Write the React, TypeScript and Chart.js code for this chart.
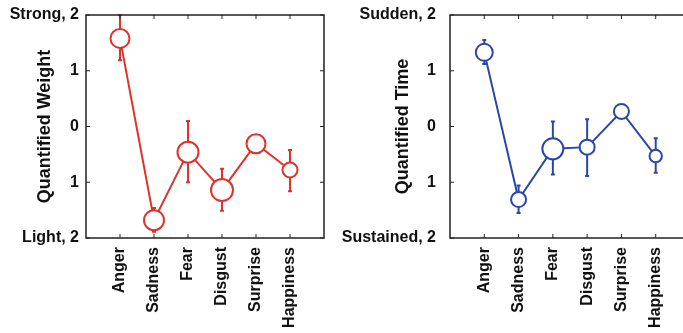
import { useEffect, useRef } from 'react';
import { Chart, registerables } from 'chart.js';

Chart.register(...registerables);

// ---------- data ----------
const emotions = ['Anger', 'Sadness', 'Fear', 'Disgust', 'Surprise', 'Happiness'];

const weightMean = [1.58, -1.68, -0.46, -1.14, -0.31, -0.78];
const weightLow = [1.19, -1.89, -1.0, -1.51, -0.31, -1.16];
const weightHigh = [2.0, -1.46, 0.1, -0.76, -0.31, -0.42];
const weightMarker = [9.5, 10, 10.5, 11, 9.5, 7.5];

const timeMean = [1.33, -1.31, -0.4, -0.37, 0.27, -0.53];
const timeLow = [1.12, -1.55, -0.86, -0.89, 0.27, -0.83];
const timeHigh = [1.55, -1.06, 0.09, 0.13, 0.27, -0.21];
const timeMarker = [8.5, 7.5, 10.5, 7.5, 7.5, 6.2];

const yTickValues = [-2, -1, 0, 1, 2];
const weightTickLabels = ['Light, 2', '1', '0', '1', 'Strong, 2'];
const timeTickLabels = ['Sustained, 2', '1', '0', '1', 'Sudden, 2'];

const FONT = "'Liberation Sans', Arial, Helvetica, sans-serif";

type PanelProps = {
  left: number;
  width: number;
  yWidth: number;
  padRight: number;
  tickPad: number;
  titlePad: number;
  title: string;
  tickLabels: string[];
  color: string;
  mean: number[];
  low: number[];
  high: number[];
  marker: number[];
};

function Panel(p: PanelProps) {
  const ref = useRef<HTMLCanvasElement | null>(null);
  useEffect(() => {
    if (!ref.current) return;
    const framePlugin = {
      id: 'frameErr',
      beforeDatasetsDraw(chart: any) {
        const { ctx, chartArea: a, scales } = chart;
        const xs = scales.x;
        const ys = scales.y;
        ctx.save();
        // error bars
        ctx.strokeStyle = p.color;
        ctx.lineWidth = 2;
        p.mean.forEach((_, i) => {
          const x = xs.getPixelForValue(i + 1);
          const yl = ys.getPixelForValue(p.low[i]);
          const yh = ys.getPixelForValue(p.high[i]);
          if (Math.abs(yl - yh) < 0.5) return;
          ctx.beginPath();
          ctx.moveTo(x, yl);
          ctx.lineTo(x, yh);
          ctx.moveTo(x - 2, yl);
          ctx.lineTo(x + 2, yl);
          ctx.moveTo(x - 2, yh);
          ctx.lineTo(x + 2, yh);
          ctx.stroke();
        });
        // frame
        ctx.strokeStyle = '#222';
        ctx.lineWidth = 1.5;
        ctx.strokeRect(a.left, a.top, a.right - a.left, a.bottom - a.top);
        ctx.lineWidth = 1;
        ctx.beginPath();
        yTickValues.forEach((v) => {
          const y = ys.getPixelForValue(v);
          ctx.moveTo(a.left, y);
          ctx.lineTo(a.left + 4, y);
          ctx.moveTo(a.right, y);
          ctx.lineTo(a.right - 4, y);
        });
        emotions.forEach((_, i) => {
          const x = xs.getPixelForValue(i + 1);
          ctx.moveTo(x, a.bottom);
          ctx.lineTo(x, a.bottom - 4);
          ctx.moveTo(x, a.top);
          ctx.lineTo(x, a.top + 4);
        });
        ctx.stroke();
        ctx.restore();
      },
    };
    const chart = new Chart(ref.current, {
      type: 'line',
      data: {
        datasets: [
          {
            data: p.mean.map((v, i) => ({ x: i + 1, y: v })),
            borderColor: p.color,
            borderWidth: 2,
            backgroundColor: '#ffffff',
            pointBackgroundColor: '#ffffff',
            pointBorderColor: p.color,
            pointBorderWidth: 2,
            pointRadius: p.marker,
            pointHoverRadius: p.marker,
            tension: 0,
            fill: false,
            clip: false as any,
          },
        ],
      },
      options: {
        animation: false,
        responsive: false,
        devicePixelRatio: 1,
        events: [],
        layout: { autoPadding: false, padding: { top: 15, right: p.padRight, left: 0, bottom: 0 } },
        plugins: { legend: { display: false }, tooltip: { enabled: false }, title: { display: false } },
        scales: {
          x: {
            type: 'linear',
            min: 0,
            max: 7,
            grid: { display: false, drawTicks: false },
            border: { display: false },
            afterBuildTicks: (s: any) => {
              s.ticks = emotions.map((_, i) => ({ value: i + 1 }));
            },
            afterFit: (s: any) => {
              s.height = 95;
              s.paddingLeft = 0;
              s.paddingRight = 0;
            },
            ticks: {
              autoSkip: false,
              minRotation: 90,
              maxRotation: 90,
              padding: 9,
              color: '#111',
              font: { family: FONT, size: 16, weight: 'bold' },
              callback: (v: any) => emotions[Number(v) - 1] ?? '',
            },
          },
          y: {
            type: 'linear',
            min: -2,
            max: 2,
            grid: { display: false, drawTicks: false },
            border: { display: false },
            afterBuildTicks: (s: any) => {
              s.ticks = yTickValues.map((v) => ({ value: v }));
            },
            afterFit: (s: any) => {
              s.width = p.yWidth;
              s.paddingTop = 0;
              s.paddingBottom = 0;
            },
            ticks: {
              padding: p.tickPad,
              color: '#111',
              font: { family: FONT, size: 16, weight: 'bold' },
              callback: (v: any) => p.tickLabels[yTickValues.indexOf(Number(v))] ?? '',
            },
            title: {
              display: true,
              text: p.title,
              color: '#111',
              padding: { top: p.titlePad, bottom: 0 },
              font: { family: FONT, size: 18, weight: 'bold' },
            },
          },
        },
      },
      plugins: [framePlugin],
    } as any);
    return () => chart.destroy();
  }, []);
  return (
    <canvas
      ref={ref}
      width={p.width}
      height={333}
      style={{ position: 'absolute', left: p.left, top: 0, width: p.width, height: 333 }}
    />
  );
}

export default function App() {
  return (
    <div
      style={{
        position: 'fixed',
        left: 0,
        top: 0,
        width: 683,
        height: 333,
        overflow: 'hidden',
        background: '#fff',
      }}
    >
      <Panel
        left={0}
        width={340}
        yWidth={86}
        padRight={16}
        tickPad={7}
        titlePad={34}
        title="Quantified Weight"
        tickLabels={weightTickLabels}
        color="#e0322a"
        mean={weightMean}
        low={weightLow}
        high={weightHigh}
        marker={weightMarker}
      />
      <Panel
        left={340}
        width={360}
        yWidth={110}
        padRight={10}
        tickPad={14}
        titlePad={52}
        title="Quantified Time"
        tickLabels={timeTickLabels}
        color="#2b46a8"
        mean={timeMean}
        low={timeLow}
        high={timeHigh}
        marker={timeMarker}
      />
    </div>
  );
}
